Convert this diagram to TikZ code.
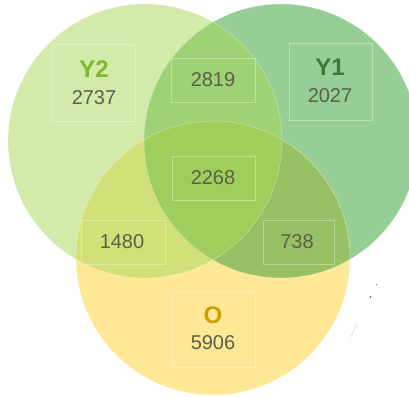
\documentclass[tikz,border=0pt]{standalone}
\usepackage{fontspec}
\setmainfont{Liberation Sans}
\definecolor{cYtwo}{HTML}{D2EAAA}
\definecolor{cYone}{HTML}{97CE95}
\definecolor{cO}{HTML}{FFE895}
\definecolor{cYtwoYone}{HTML}{9ED274}
\definecolor{cYtwoO}{HTML}{D2E07A}
\definecolor{cYoneO}{HTML}{97C164}
\definecolor{cAll}{HTML}{9ECF5C}
\definecolor{numgrey}{HTML}{5B6147}
\definecolor{labYtwo}{HTML}{7DB92B}
\definecolor{labYone}{HTML}{3C7C34}
\definecolor{labO}{HTML}{C9A000}
\tikzset{
  lbox/.style={draw=white, draw opacity=0.35, line width=0.6pt},
  num/.style={font=\fontsize{20}{22}\selectfont, text=numgrey},
  setlab/.style={font=\fontsize{24}{26}\selectfont\bfseries},
  edge/.style={draw=white, draw opacity=0.4, line width=0.5pt}
}
\begin{document}
\begin{tikzpicture}[x=1pt,y=-1pt]
\useasboundingbox (0,0) rectangle (409,396);
\def\rr{137}
% base circles
\fill[cYtwo] (145,141) circle (\rr);
\fill[cYone] (281,141) circle (\rr);
\fill[cO] (213,258) circle (\rr);
% pairwise overlaps
\begin{scope}
  \clip (145,141) circle (\rr);
  \fill[cYtwoYone] (281,141) circle (\rr);
\end{scope}
\begin{scope}
  \clip (145,141) circle (\rr);
  \fill[cYtwoO] (213,258) circle (\rr);
\end{scope}
\begin{scope}
  \clip (281,141) circle (\rr);
  \fill[cYoneO] (213,258) circle (\rr);
\end{scope}
\begin{scope}
  \clip (145,141) circle (\rr);
  \clip (281,141) circle (\rr);
  \fill[cAll] (213,258) circle (\rr);
\end{scope}
% faint edges
\draw[edge] (145,141) circle (\rr);
\draw[edge] (281,141) circle (\rr);
\draw[edge] (213,258) circle (\rr);
% label boxes
\draw[lbox] (52,44) rectangle (135,121);
\draw[lbox] (289,43) rectangle (372,120);
\draw[lbox] (171,58) rectangle (255,102);
\draw[lbox] (172,156) rectangle (255,200);
\draw[lbox] (81,220) rectangle (165,264);
\draw[lbox] (263,220) rectangle (334,264);
\draw[lbox] (172,292) rectangle (255,367);
% labels
\node[setlab, text=labYtwo] (ytwo) at (94,69) {Y2};
\node[num] (ytwon) at (94,98) {2737};
\node[setlab, text=labYone] (yone) at (330,67) {Y1};
\node[num] (yonen) at (330,96) {2027};
\node[num] (yy) at (213,80) {2819};
\node[num] (all) at (213,178) {2268};
\node[num] (yo) at (122,242) {1480};
\node[num] (oy) at (297,242) {738};
\node[setlab, text=labO] (olab) at (213,315) {O};
\node[num] (on) at (213,343) {5906};
% stray marks
\coordinate (m1) at (377,284);
\coordinate (m2) at (376,285.5);
\coordinate (m3) at (371,296);
\coordinate (m4) at (370,298);
\coordinate (m5) at (358,322);
\coordinate (m6) at (348,342);
\draw[gray, line width=0.6pt] (m1) -- (m2);
\draw[gray!80!black, line width=0.8pt] (m3) -- (m4);
\draw[gray, line width=0.5pt, dotted] (m5) -- (m6);
\end{tikzpicture}
\end{document}
